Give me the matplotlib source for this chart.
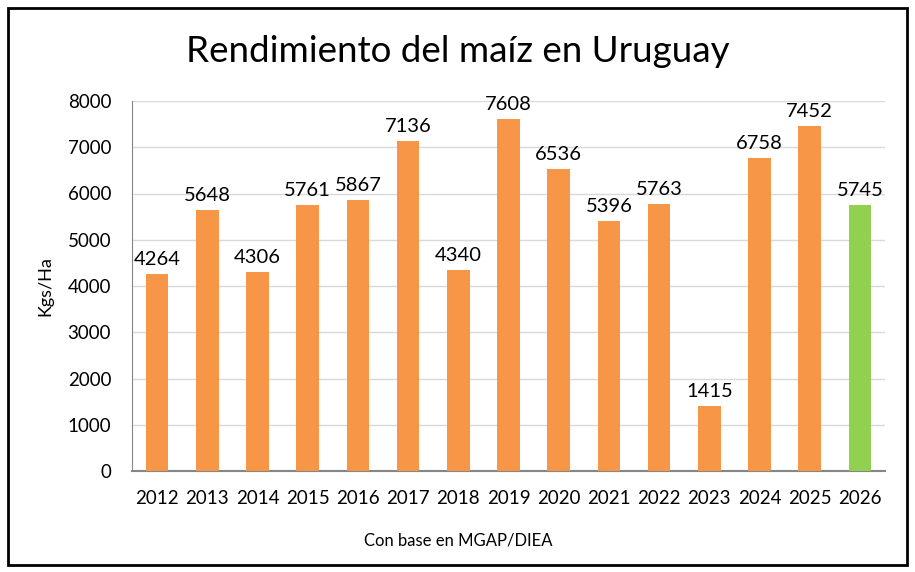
import matplotlib
matplotlib.use("Agg")
import matplotlib.pyplot as plt
from matplotlib.patches import Rectangle

years = ["2012", "2013", "2014", "2015", "2016", "2017", "2018", "2019",
         "2020", "2021", "2022", "2023", "2024", "2025", "2026"]
values = [4264, 5648, 4306, 5761, 5867, 7136, 4340, 7608,
          6536, 5396, 5763, 1415, 6758, 7452, 5745]
yticks = [0, 1000, 2000, 3000, 4000, 5000, 6000, 7000, 8000]

plt.rcParams['font.family'] = ['Lato', 'DejaVu Sans']

fig = plt.figure(figsize=(9.15, 5.72), dpi=100)
W, H = 915, 572
ax = fig.add_axes([132 / W, 1 - 471 / H, (885 - 132) / W, (471 - 101) / H])

colors = ["#F79646"] * (len(years) - 1) + ["#92D050"]
x = list(range(len(years)))
bars = ax.bar(x, values, width=0.45, color=colors, zorder=3)
for xi, v in zip(x, values):
    ax.text(xi, v + 130, str(v), ha="center", va="bottom", fontsize=14.5, color="black")

ax.set_xlim(-0.5, len(years) - 0.5)
ax.set_ylim(0, 8000)
ax.set_yticks(yticks)
ax.set_yticklabels([str(t) for t in yticks], fontsize=13.5)
ax.set_xticks(x)
ax.set_xticklabels(years, fontsize=13.5)
ax.tick_params(axis="y", length=0, pad=15)
ax.tick_params(axis="x", length=0, pad=14)
ax.grid(axis="y", color="#D9D9D9", linewidth=1, zorder=0)
for s in ["top", "right"]:
    ax.spines[s].set_visible(False)
ax.spines["left"].set_color("#868686")
ax.spines["bottom"].set_color("#868686")
ax.spines["bottom"].set_linewidth(1.5)
ax.set_ylabel("Kgs/Ha", fontsize=13, labelpad=10)

fig.text(458 / W, 1 - 52 / H, "Rendimiento del maíz en Uruguay", ha="center", va="center", fontsize=26.5)
fig.text(458 / W, 1 - 540 / H, "Con base en MGAP/DIEA", ha="center", va="center", fontsize=12)

fig.patches.append(Rectangle((8 / W, 1 - 565 / H), (907 - 8) / W, (565 - 8) / H,
                             transform=fig.transFigure, fill=False, edgecolor="black", linewidth=2))

fig.savefig("out.png", dpi=100, facecolor="white")
